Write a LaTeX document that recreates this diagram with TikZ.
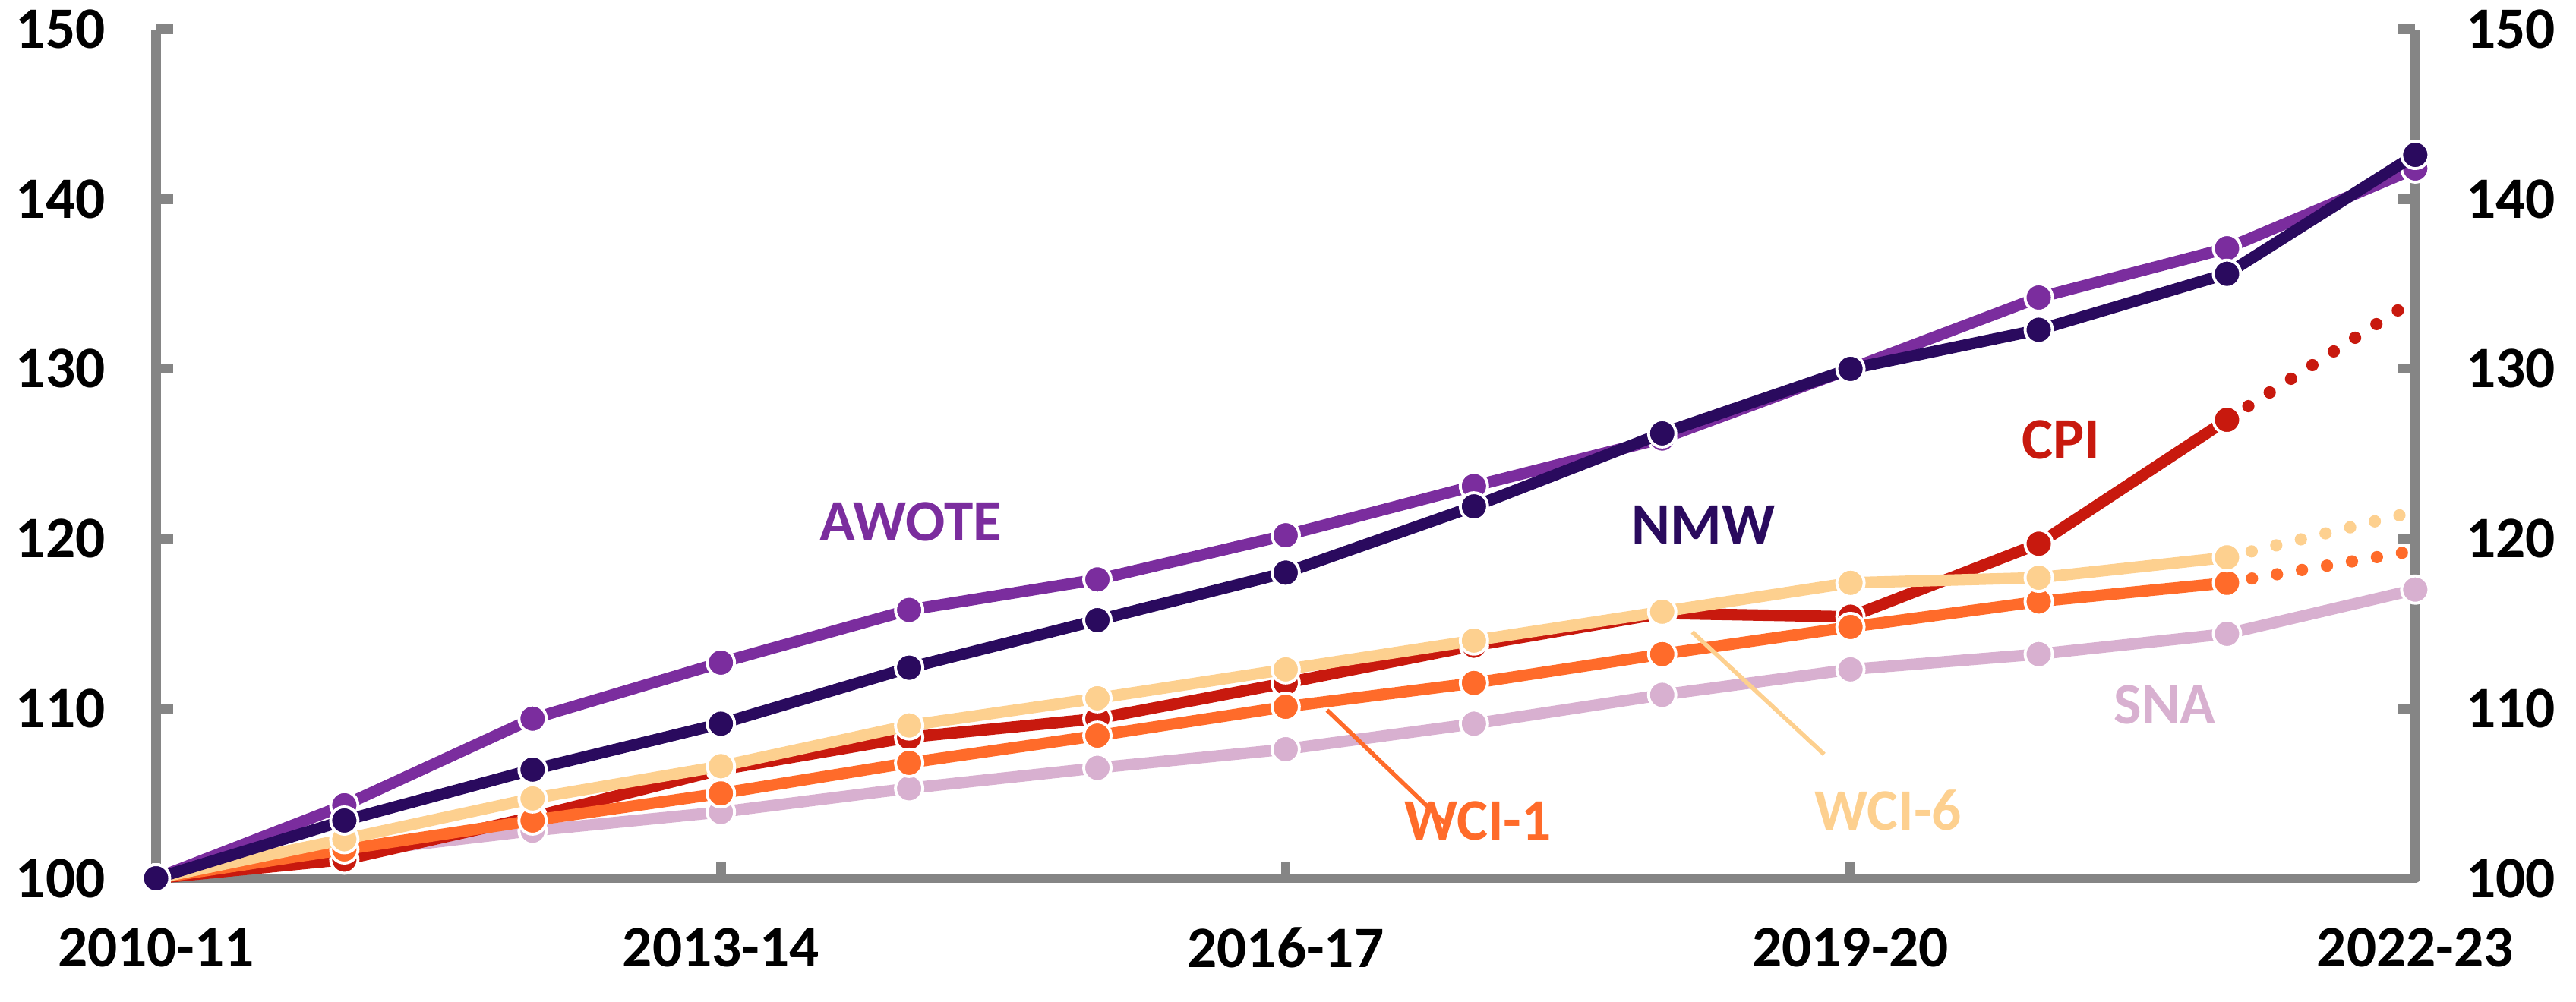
\documentclass[tikz,border=0pt]{standalone}
\usepackage{fontspec}
\setmainfont{Carlito}
\usetikzlibrary{calc}

\definecolor{awote}{HTML}{7B2D9E}
\definecolor{nmw}{HTML}{2A0A5E}
\definecolor{cpi}{HTML}{C8190E}
\definecolor{wcisix}{HTML}{FDD08F}
\definecolor{wcione}{HTML}{FF6B2A}
\definecolor{sna}{HTML}{D8B0D0}
\definecolor{axisgrey}{HTML}{858585}

\tikzset{
  series/.style={line width=4.3pt, line join=round},
  dotline/.style={line width=4.6pt, line cap=round, dash pattern=on 0pt off 9.5pt},
  lbl/.style={font=\bfseries\fontsize{22}{26}\selectfont},
}

\newcommand{\drawseries}[2]{%
  \draw[series, #1] plot[mark=*, mark size=0.18cm,
    mark options={draw=white, fill=#1, line width=1.1pt}] coordinates {#2};
}

\begin{document}
\begin{tikzpicture}[line join=round]
\useasboundingbox (0,0) rectangle (33.92,13.19);

\begin{scope}[xshift=2.055cm, yshift=1.62cm, x=2.479cm, y=0.2237cm]

% axes
\draw[axisgrey, line width=3.6pt] (0,50) -- (0,0) -- (12,0) -- (12,50);
\foreach \v in {10,20,...,50} {
  \draw[axisgrey, line width=3.6pt] (0,\v) -- +(0.09,0);
  \draw[axisgrey, line width=3.6pt] (12,\v) -- +(-0.09,0);
}
\foreach \i in {3,6,9} \draw[axisgrey, line width=3.6pt] (\i,0) -- +(0,1.0);

\foreach \v in {100,110,...,150} {
  \node[lbl, anchor=east] (yl\v) at (-0.22,\v-100) {\v};
  \node[lbl, anchor=west] (yr\v) at (12.22,\v-100) {\v};
}
\node[lbl] (x0) at (0,-4.1) {2010-11};
\node[lbl] (x3) at (3,-4.1) {2013-14};
\node[lbl] (x6) at (6,-4.1) {2016-17};
\node[lbl] (x9) at (9,-4.1) {2019-20};
\node[lbl] (x12) at (12,-4.1) {2022-23};

% dotted forecasts
\draw[dotline, cpi] (11,27.0) -- (12,34.1);
\draw[dotline, wcisix] (11,18.9) -- (12,21.6);
\draw[dotline, wcione] (11,17.4) -- (12,19.3);

% series
\drawseries{sna}{(0,0) (1,1.5) (2,2.8) (3,3.9) (4,5.3) (5,6.5) (6,7.6) (7,9.1) (8,10.8) (9,12.3) (10,13.2) (11,14.4) (12,17.0)}
\drawseries{cpi}{(0,0) (1,1.1) (2,3.6) (3,6.4) (4,8.3) (5,9.4) (6,11.5) (7,13.7) (8,15.6) (9,15.4) (10,19.7) (11,27.0)}
\drawseries{wcione}{(0,0) (1,1.7) (2,3.4) (3,5.0) (4,6.8) (5,8.4) (6,10.1) (7,11.5) (8,13.2) (9,14.8) (10,16.3) (11,17.4)}
\drawseries{wcisix}{(0,0) (1,2.3) (2,4.7) (3,6.6) (4,9.0) (5,10.6) (6,12.3) (7,14.0) (8,15.7) (9,17.4) (10,17.7) (11,18.9)}
\drawseries{awote}{(0,0) (1,4.3) (2,9.4) (3,12.7) (4,15.8) (5,17.6) (6,20.2) (7,23.1) (8,25.9) (9,30.0) (10,34.2) (11,37.1) (12,41.8)}
\drawseries{nmw}{(0,0) (1,3.4) (2,6.4) (3,9.1) (4,12.4) (5,15.2) (6,18.0) (7,21.9) (8,26.2) (9,30.0) (10,32.3) (11,35.6) (12,42.6)}

% labels
\node[lbl, awote] (awotelbl) at (4.01,21.0) {AWOTE};
\node[lbl, nmw] (nmwlbl) at (8.22,20.8) {NMW};
\node[lbl, cpi] (cpilbl) at (10.12,25.8) {CPI};
\node[lbl, wcisix] (wcisixlbl) at (9.2,4.0) {WCI-6};
\node[lbl, wcione] (wcionelbl) at (7.02,3.4) {WCI-1};
\node[lbl, sna] (snalbl) at (10.67,10.2) {SNA};

\coordinate (wcionetip) at (6.22,9.9);
\coordinate (wcisixtip) at (8.16,14.5);
\draw[wcione, line width=1.6pt] (wcionetip) -- (6.85,3.2);
\draw[wcisix, line width=1.6pt] (wcisixtip) -- (8.86,7.3);
\end{scope}
\end{tikzpicture}
\end{document}
